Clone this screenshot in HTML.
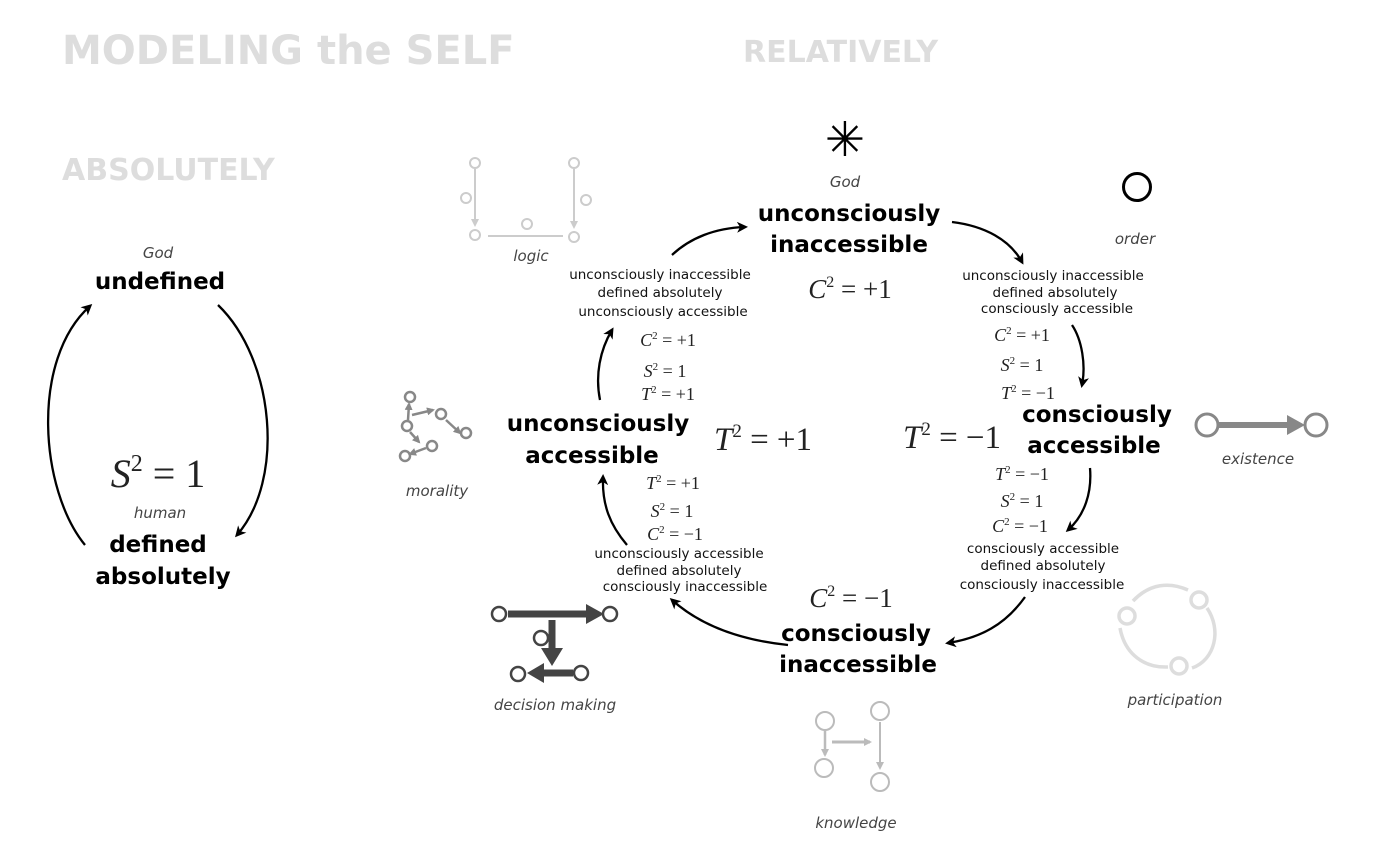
<!DOCTYPE html>
<html><head><meta charset="utf-8"><style>
html,body{margin:0;padding:0;background:#fff;}
svg{display:block;}
.h{font-family:"DejaVu Sans","Liberation Sans",sans-serif;font-weight:bold;fill:#000;}
.s{font-family:"DejaVu Sans","Liberation Sans",sans-serif;font-size:13.5px;fill:#111;}
.i{font-family:"DejaVu Sans","Liberation Sans",sans-serif;font-style:italic;fill:#444;font-size:15px;}
.m{font-family:"Liberation Serif",serif;fill:#222;}
.t{font-family:"DejaVu Sans","Liberation Sans",sans-serif;font-weight:bold;fill:#ddd;}
</style></head><body>
<svg width="1375" height="849" viewBox="0 0 1375 849" xmlns="http://www.w3.org/2000/svg">
<defs>
<marker id="a" markerWidth="11" markerHeight="11" refX="8" refY="5.5" orient="auto" markerUnits="userSpaceOnUse"><path d="M0,0 L11,5.5 L0,11 L3,5.5 z" fill="#000"/></marker>
<marker id="g" markerWidth="8" markerHeight="8" refX="6" refY="4" orient="auto" markerUnits="userSpaceOnUse"><path d="M0,0 L8,4 L0,8 z" fill="context-stroke"/></marker>
</defs>
<text class="t" x="62" y="64" font-size="40">MODELING the SELF</text>
<text class="t" x="743" y="62" font-size="30">RELATIVELY</text>
<text class="t" x="62" y="180" font-size="30">ABSOLUTELY</text>

<text class="i" x="158" y="258" text-anchor="middle">God</text>
<text class="h" x="160" y="289" font-size="23" text-anchor="middle">undefined</text>
<text class="m" x="158" y="487" font-size="40" text-anchor="middle"><tspan font-style="italic">S</tspan><tspan font-size="24" dy="-16">2</tspan><tspan dy="16"> = 1</tspan></text>
<text class="i" x="160" y="518" text-anchor="middle">human</text>
<text class="h" x="158" y="552" font-size="23" text-anchor="middle">defined</text>
<text class="h" x="163" y="584" font-size="23" text-anchor="middle">absolutely</text>
<g fill="none" stroke="#000" stroke-width="2.3">
<path d="M85,545 C40,490 30,360 90,306" marker-end="url(#a)"/>
<path d="M218,305 C275,360 285,480 237,535" marker-end="url(#a)"/>
<path d="M672,255 C690,238 715,228 745,227" marker-end="url(#a)"/>
<path d="M952,222 C985,226 1010,240 1022,262" marker-end="url(#a)"/>
<path d="M1072,325 C1082,340 1086,365 1082,385" marker-end="url(#a)"/>
<path d="M1090,468 C1092,492 1085,515 1068,530" marker-end="url(#a)"/>
<path d="M1025,597 C1005,625 980,638 948,643" marker-end="url(#a)"/>
<path d="M788,645 C740,640 700,625 672,600" marker-end="url(#a)"/>
<path d="M627,545 C610,525 602,505 603,477" marker-end="url(#a)"/>
<path d="M600,400 C595,375 600,350 612,330" marker-end="url(#a)"/>
</g>

<text x="845" y="156" font-size="48" text-anchor="middle" font-family="DejaVu Sans,sans-serif">✳</text>
<text class="i" x="845" y="187" text-anchor="middle">God</text>
<text class="h" x="849" y="221" font-size="23" text-anchor="middle">unconsciously</text>
<text class="h" x="849" y="252" font-size="23" text-anchor="middle">inaccessible</text>
<text class="m" x="850" y="298" font-size="27" text-anchor="middle"><tspan font-style="italic">C</tspan><tspan font-size="16" dy="-11">2</tspan><tspan dy="11"> = +1</tspan></text>

<circle cx="1137" cy="187" r="13.5" fill="none" stroke="#000" stroke-width="3"/>
<text class="i" x="1135" y="244" text-anchor="middle">order</text>

<text class="s" x="1053" y="280" text-anchor="middle">unconsciously inaccessible</text>
<text class="s" x="1055" y="297" text-anchor="middle">defined absolutely</text>
<text class="s" x="1057" y="313" text-anchor="middle">consciously accessible</text>
<g class="m" font-size="18" text-anchor="middle">
<text x="1022" y="341"><tspan font-style="italic">C</tspan><tspan font-size="11" dy="-7">2</tspan><tspan dy="7"> = +1</tspan></text>
<text x="1022" y="371"><tspan font-style="italic">S</tspan><tspan font-size="11" dy="-7">2</tspan><tspan dy="7"> = 1</tspan></text>
<text x="1028" y="399"><tspan font-style="italic">T</tspan><tspan font-size="11" dy="-7">2</tspan><tspan dy="7"> = −1</tspan></text>
<text x="668" y="346"><tspan font-style="italic">C</tspan><tspan font-size="11" dy="-7">2</tspan><tspan dy="7"> = +1</tspan></text>
<text x="665" y="377"><tspan font-style="italic">S</tspan><tspan font-size="11" dy="-7">2</tspan><tspan dy="7"> = 1</tspan></text>
<text x="668" y="400"><tspan font-style="italic">T</tspan><tspan font-size="11" dy="-7">2</tspan><tspan dy="7"> = +1</tspan></text>
<text x="673" y="489"><tspan font-style="italic">T</tspan><tspan font-size="11" dy="-7">2</tspan><tspan dy="7"> = +1</tspan></text>
<text x="672" y="517"><tspan font-style="italic">S</tspan><tspan font-size="11" dy="-7">2</tspan><tspan dy="7"> = 1</tspan></text>
<text x="675" y="540"><tspan font-style="italic">C</tspan><tspan font-size="11" dy="-7">2</tspan><tspan dy="7"> = −1</tspan></text>
<text x="1022" y="480"><tspan font-style="italic">T</tspan><tspan font-size="11" dy="-7">2</tspan><tspan dy="7"> = −1</tspan></text>
<text x="1022" y="507"><tspan font-style="italic">S</tspan><tspan font-size="11" dy="-7">2</tspan><tspan dy="7"> = 1</tspan></text>
<text x="1020" y="532"><tspan font-style="italic">C</tspan><tspan font-size="11" dy="-7">2</tspan><tspan dy="7"> = −1</tspan></text>
</g>
<text class="h" x="1097" y="422" font-size="23" text-anchor="middle">consciously</text>
<text class="h" x="1094" y="453" font-size="23" text-anchor="middle">accessible</text>

<text class="m" x="763" y="450" font-size="33" text-anchor="middle"><tspan font-style="italic">T</tspan><tspan font-size="19" dy="-13">2</tspan><tspan dy="13"> = +1</tspan></text>
<text class="m" x="952" y="448" font-size="33" text-anchor="middle"><tspan font-style="italic">T</tspan><tspan font-size="19" dy="-13">2</tspan><tspan dy="13"> = −1</tspan></text>

<text class="h" x="598" y="431" font-size="23" text-anchor="middle">unconsciously</text>
<text class="h" x="592" y="463" font-size="23" text-anchor="middle">accessible</text>
<text class="s" x="660" y="279" text-anchor="middle">unconsciously inaccessible</text>
<text class="s" x="660" y="297" text-anchor="middle">defined absolutely</text>
<text class="s" x="663" y="316" text-anchor="middle">unconsciously accessible</text>
<text class="s" x="679" y="558" text-anchor="middle">unconsciously accessible</text>
<text class="s" x="679" y="575" text-anchor="middle">defined absolutely</text>
<text class="s" x="685" y="591" text-anchor="middle">consciously inaccessible</text>
<text class="s" x="1043" y="553" text-anchor="middle">consciously accessible</text>
<text class="s" x="1043" y="570" text-anchor="middle">defined absolutely</text>
<text class="s" x="1042" y="589" text-anchor="middle">consciously inaccessible</text>

<text class="m" x="851" y="607" font-size="27" text-anchor="middle"><tspan font-style="italic">C</tspan><tspan font-size="16" dy="-11">2</tspan><tspan dy="11"> = −1</tspan></text>
<text class="h" x="856" y="641" font-size="23" text-anchor="middle">consciously</text>
<text class="h" x="858" y="672" font-size="23" text-anchor="middle">inaccessible</text>

<g stroke="#888" stroke-width="3" fill="none">
<circle cx="1207" cy="425" r="11"/><circle cx="1316" cy="425" r="11"/>
<line x1="1219" y1="425" x2="1290" y2="425" stroke-width="6"/>
</g>
<path d="M1287,415 L1305,425 L1287,435 z" fill="#888"/>
<text class="i" x="1258" y="464" text-anchor="middle">existence</text>

<g stroke="#ccc" stroke-width="2" fill="none">
<circle cx="475" cy="163" r="5"/><circle cx="466" cy="198" r="5"/><circle cx="475" cy="235" r="5"/>
<circle cx="574" cy="163" r="5"/><circle cx="586" cy="200" r="5"/><circle cx="574" cy="237" r="5"/>
<circle cx="527" cy="224" r="5"/>
<line x1="475" y1="169" x2="475" y2="225" marker-end="url(#g)"/>
<line x1="574" y1="169" x2="574" y2="227" marker-end="url(#g)"/>
<line x1="488" y1="236" x2="563" y2="236"/>
</g>
<text class="i" x="531" y="261" text-anchor="middle">logic</text>

<g stroke="#888" stroke-width="2.5" fill="none">
<circle cx="410" cy="397" r="5"/><circle cx="441" cy="414" r="5"/><circle cx="407" cy="426" r="5"/>
<circle cx="466" cy="433" r="5"/><circle cx="432" cy="446" r="5"/><circle cx="405" cy="456" r="5"/>
<line x1="408" y1="420" x2="409" y2="404" marker-end="url(#g)"/>
<line x1="412" y1="415" x2="433" y2="410" marker-end="url(#g)"/>
<line x1="446" y1="420" x2="460" y2="433" marker-end="url(#g)"/>
<line x1="426" y1="448" x2="410" y2="454" marker-end="url(#g)"/>
<line x1="410" y1="432" x2="419" y2="442" marker-end="url(#g)"/>
</g>
<text class="i" x="437" y="496" text-anchor="middle">morality</text>

<g stroke="#444" stroke-width="2.5" fill="none">
<circle cx="499" cy="614" r="7"/><circle cx="610" cy="614" r="7"/><circle cx="541" cy="638" r="7"/>
<circle cx="518" cy="674" r="7"/><circle cx="581" cy="673" r="7"/>
<line x1="508" y1="614" x2="588" y2="614" stroke-width="7"/>
<line x1="552" y1="620" x2="552" y2="650" stroke-width="7"/>
<line x1="573" y1="673" x2="540" y2="673" stroke-width="7"/>
</g>
<path d="M586,604 L604,614 L586,624 z" fill="#444"/>
<path d="M541,648 L552,666 L563,648 z" fill="#444"/>
<path d="M544,663 L527,673 L544,683 z" fill="#444"/>
<text class="i" x="555" y="710" text-anchor="middle">decision making</text>

<g stroke="#ddd" stroke-width="3.5" fill="none">
<circle cx="1127" cy="616" r="8"/><circle cx="1199" cy="600" r="8"/><circle cx="1179" cy="666" r="8"/>
<path d="M1133,601 C1150,583 1170,582 1188,590"/>
<path d="M1207,608 C1222,630 1215,660 1192,668"/>
<path d="M1168,667 C1145,668 1125,655 1120,628"/>
</g>
<text class="i" x="1175" y="705" text-anchor="middle">participation</text>

<g stroke="#bbb" stroke-width="2" fill="none">
<circle cx="825" cy="721" r="9"/><circle cx="880" cy="711" r="9"/><circle cx="824" cy="768" r="9"/><circle cx="880" cy="782" r="9"/>
<line x1="825" y1="731" x2="825" y2="755" marker-end="url(#g)" stroke-width="2.5"/>
<line x1="832" y1="742" x2="870" y2="742" marker-end="url(#g)" stroke-width="3"/>
<line x1="880" y1="722" x2="880" y2="768" marker-end="url(#g)"/>
</g>
<text class="i" x="856" y="828" text-anchor="middle">knowledge</text>
</svg>
</body></html>
